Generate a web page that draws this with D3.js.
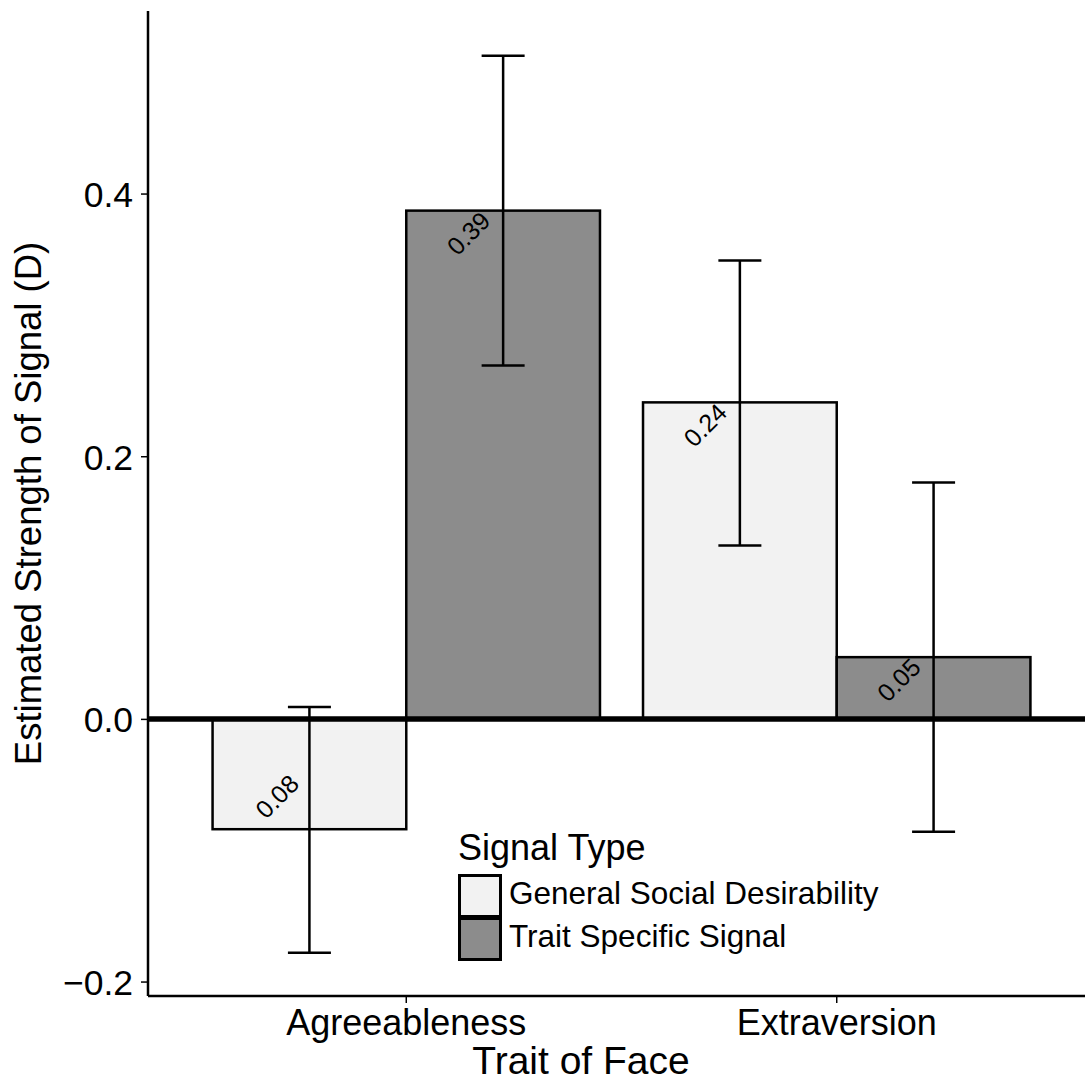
<!DOCTYPE html>
<html lang="en">
<head>
    <meta charset="UTF-8">
    <title>Estimated Strength of Signal</title>
    <script src="https://d3js.org/d3.v7.min.js"></script>
    <style>
        body {
            margin: 0;
            background: white;
            font-family: "Liberation Sans", Arial, sans-serif;
        }
        svg text { fill: black; }
    </style>
</head>
<body>
    <div id="chart"></div>

    <script>
        // Data
        const traits = ['Agreeableness', 'Extraversion'];
        const signalTypes = ['General Social Desirability', 'Trait Specific Signal'];
        const generalValues = [-0.084, 0.241];
        const generalLower = [-0.178, 0.132];
        const generalUpper = [0.009, 0.349];
        const specificValues = [0.387, 0.047];
        const specificLower = [0.269, -0.086];
        const specificUpper = [0.505, 0.180];
        const yTicks = [-0.2, 0.0, 0.2, 0.4];

        const width = 1085;
        const height = 1081;
        const plot = { left: 148, right: 1095, top: 11, bottom: 996 };
        const fills = ['#f2f2f2', '#8c8c8c'];

        // build rows for drawing
        const rows = [];
        traits.forEach((t, i) => {
            rows.push({ trait: t, type: signalTypes[0], value: generalValues[i], lo: generalLower[i], hi: generalUpper[i] });
            rows.push({ trait: t, type: signalTypes[1], value: specificValues[i], lo: specificLower[i], hi: specificUpper[i] });
        });

        const svg = d3.select('#chart')
            .append('svg')
            .attr('width', width)
            .attr('height', height);

        const x = d3.scaleBand()
            .domain(traits)
            .range([plot.left, plot.right])
            .paddingInner(0.1)
            .paddingOuter(0.15);

        const xSub = d3.scaleBand()
            .domain(signalTypes)
            .range([0, x.bandwidth()]);

        const y = d3.scaleLinear()
            .domain([-0.211, 0.539])
            .range([plot.bottom, plot.top]);

        const color = d3.scaleOrdinal().domain(signalTypes).range(fills);

        // Bars
        svg.append('g')
            .selectAll('rect')
            .data(rows)
            .join('rect')
            .attr('x', d => x(d.trait) + xSub(d.type))
            .attr('width', xSub.bandwidth())
            .attr('y', d => y(Math.max(0, d.value)))
            .attr('height', d => Math.abs(y(d.value) - y(0)))
            .attr('fill', d => color(d.type))
            .attr('stroke', 'black')
            .attr('stroke-width', 2.5);

        // thick zero line
        svg.append('line')
            .attr('x1', plot.left).attr('x2', width)
            .attr('y1', y(0)).attr('y2', y(0))
            .attr('stroke', 'black')
            .attr('stroke-width', 5.5);

        // Error bars
        const capHalf = 21.5;
        const eb = svg.append('g')
            .selectAll('g')
            .data(rows)
            .join('g')
            .attr('transform', d => `translate(${x(d.trait) + xSub(d.type) + xSub.bandwidth() / 2},0)`)
            .attr('stroke', 'black')
            .attr('stroke-width', 2.5);
        eb.append('line').attr('y1', d => y(d.lo)).attr('y2', d => y(d.hi));
        eb.append('line').attr('x1', -capHalf).attr('x2', capHalf).attr('y1', d => y(d.hi)).attr('y2', d => y(d.hi));
        eb.append('line').attr('x1', -capHalf).attr('x2', capHalf).attr('y1', d => y(d.lo)).attr('y2', d => y(d.lo));

        // Value labels, rotated 45 degrees
        svg.append('g')
            .selectAll('text')
            .data(rows)
            .join('text')
            .attr('transform', d => {
                const cx = x(d.trait) + xSub(d.type) + xSub.bandwidth() / 2;
                return d.value >= 0
                    ? `translate(${cx - 16},${y(d.value) + 7}) rotate(-45)`
                    : `translate(${cx - 48},${y(d.value) - 14}) rotate(-45)`;
            })
            .attr('text-anchor', d => d.value >= 0 ? 'end' : 'start')
            .attr('dominant-baseline', 'middle')
            .style('font-size', '25px')
            .text(d => Math.abs(d.value).toFixed(2));

        // Y axis
        const yAxis = svg.append('g')
            .attr('transform', `translate(${plot.left},0)`)
            .call(d3.axisLeft(y).tickValues(yTicks).tickFormat(d3.format('.1f')).tickSize(7).tickPadding(8));
        yAxis.select('.domain').remove();
        yAxis.selectAll('.tick line').attr('stroke-width', 1.5);
        yAxis.selectAll('.tick text').style('font-size', '35.5px').attr('dy', '0.36em');
        svg.append('line')
            .attr('x1', plot.left).attr('x2', plot.left)
            .attr('y1', plot.top).attr('y2', plot.bottom)
            .attr('stroke', 'black').attr('stroke-width', 2.5);

        // X axis
        const xAxis = svg.append('g')
            .attr('transform', `translate(0,${plot.bottom})`)
            .call(d3.axisBottom(x).tickSize(7).tickPadding(6));
        xAxis.select('.domain').remove();
        xAxis.selectAll('.tick line').attr('stroke-width', 1.5);
        xAxis.selectAll('.tick text').style('font-size', '36px');
        svg.append('line')
            .attr('x1', plot.left).attr('x2', width)
            .attr('y1', plot.bottom).attr('y2', plot.bottom)
            .attr('stroke', 'black').attr('stroke-width', 2.5);

        // Axis titles
        svg.append('text')
            .attr('x', 581).attr('y', 1074)
            .attr('text-anchor', 'middle')
            .style('font-size', '39px')
            .text('Trait of Face');

        svg.append('text')
            .attr('transform', `translate(41,${(plot.top + plot.bottom) / 2}) rotate(-90)`)
            .attr('text-anchor', 'middle')
            .style('font-size', '36.5px')
            .text('Estimated Strength of Signal (D)');

        // Legend
        const legend = svg.append('g').attr('transform', 'translate(458,0)');
        legend.append('text')
            .attr('x', 0).attr('y', 860)
            .style('font-size', '36px')
            .text('Signal Type');
        const keys = legend.selectAll('g.key')
            .data(signalTypes)
            .join('g')
            .attr('class', 'key')
            .attr('transform', (d, i) => `translate(0,${874 + i * 43})`);
        keys.append('rect')
            .attr('x', 1.5).attr('y', 1.5)
            .attr('width', 41).attr('height', 41)
            .attr('fill', d => color(d))
            .attr('stroke', 'black')
            .attr('stroke-width', 3);
        keys.append('text')
            .attr('x', 51).attr('y', 22)
            .attr('dominant-baseline', 'middle')
            .style('font-size', '31.5px')
            .text(d => d);
    </script>
</body>
</html>
